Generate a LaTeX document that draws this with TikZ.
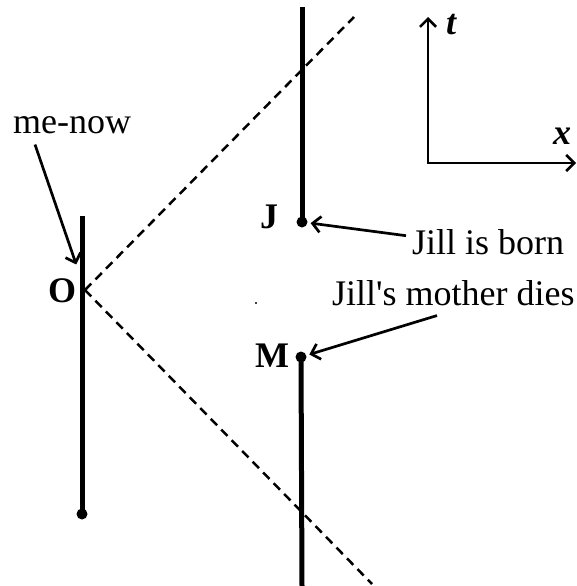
\documentclass[tikz,border=0pt]{standalone}
\usepackage{fontspec}
\setmainfont{Liberation Serif}[Ligatures=TeXOff]
\usetikzlibrary{arrows.meta}

\tikzset{
  worldline/.style={line width=5pt},
  cone/.style={line width=2.5pt,dash pattern=on 9pt off 6pt},
  pointer/.style={line width=2.7pt,-{Straight Barb[length=8pt,width=16pt]}},
  axis/.style={line width=2.6pt,{Straight Barb[length=8pt,width=16pt]}-{Straight Barb[length=8pt,width=16pt]}},
  event/.style={circle,fill,inner sep=0pt,minimum size=11pt},
  lab/.style={font=\fontsize{36}{40}\selectfont,inner sep=0pt},
  evlab/.style={font=\fontsize{36}{40}\selectfont\bfseries,inner sep=0pt},
  axlab/.style={font=\fontsize{36}{40}\selectfont\bfseries\itshape,inner sep=0pt}
}

\begin{document}
\begin{tikzpicture}[x=1pt,y=-1pt]
  \useasboundingbox (0,0) rectangle (577,586);

  % my worldline
  \coordinate (metop) at (82,216);
  \node[event] (mebot) at (82,514) {};
  \draw[worldline] (metop) -- (mebot.center);
  \coordinate (O) at (85,290);
  \node[evlab,anchor=base west] (Olab) at (48,302) {O};

  % light cone of O
  \coordinate (conetop) at (354,17);
  \coordinate (conebot) at (372,584);
  \draw[cone] (O) -- (conetop);
  \draw[cone] (O) -- (conebot);

  % Jill's worldline
  \coordinate (jilltop) at (302,7);
  \coordinate (jillbot) at (302,586);
  \node[event] (J) at (302,222) {};
  \node[event] (M) at (301,357) {};
  \draw[worldline] (jilltop) -- (J.center);
  \draw[worldline] (M.center) -- (jillbot);
  \node[evlab,anchor=base west] (Jlab) at (260,228) {J};
  \node[evlab,anchor=base west] (Mlab) at (255,367) {M};
  \fill (256,303) circle (1.1pt);

  % labels
  \node[lab,anchor=base west] (menow) at (13,133) {me-now};
  \node[lab,anchor=base west] (born) at (412,254) {Jill is born};
  \node[lab,anchor=base west] (dies) at (332,305) {Jill's mother dies};
  \draw[pointer,shorten >=27pt] ([xshift=22pt,yshift=-11pt]menow.south west) -- (O);
  \draw[pointer,shorten >=3pt] ([xshift=-6pt,yshift=6pt]born.west) -- (J);
  \draw[pointer,shorten >=3pt] ([xshift=105pt,yshift=-10pt]dies.south west) -- (M);

  % axes
  \coordinate (origin) at (428,163);
  \coordinate (taxis) at (428,17);
  \coordinate (xaxis) at (576,163);
  \draw[axis] (taxis) -- (origin) -- (xaxis);
  \node[axlab,anchor=base west] (tlab) at (446,35) {t};
  \node[axlab,anchor=base west] (xlab) at (553,144) {x};
\end{tikzpicture}
\end{document}
